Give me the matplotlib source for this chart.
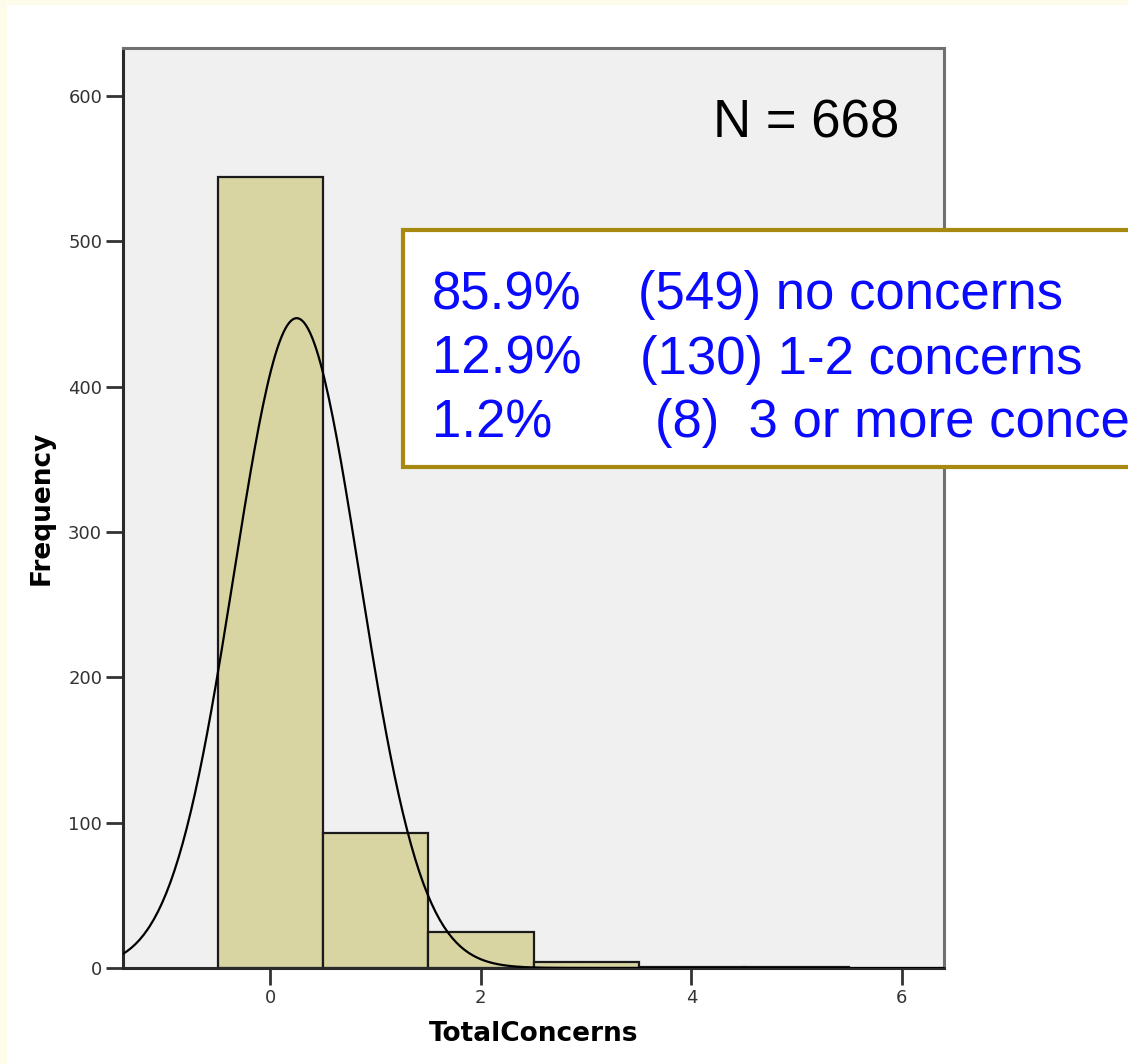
import numpy as np
import matplotlib
matplotlib.use("Agg")
from matplotlib import pyplot as plt
from matplotlib.patches import Rectangle

# histogram of total concerns per respondent
bin_centers = [0, 1, 2, 3, 4, 5]
counts = [544, 93, 25, 4, 1, 1]
n_total = 668

# fitted normal curve parameters
curve_mean = 0.25
curve_sd = 0.596

pct_labels = ["85.9%", "12.9%", "1.2%"]
group_labels = ["(549) no concerns", "(130) 1-2 concerns", "(8)  3 or more concerns"]

W, H = 1128, 1064


def fx(px):
    return px / W


def fy(py):
    return 1 - py / H


fig = plt.figure(figsize=(W / 100, H / 100), dpi=100)
fig.patch.set_facecolor("#fdfbe9")
fig.patches.append(Rectangle((fx(7), 0), 1, fy(5), transform=fig.transFigure,
                             facecolor="white", edgecolor="none", zorder=-5))

ax = fig.add_axes([fx(123), fy(968), fx(944) - fx(123), fy(48) - fy(968)])
ax.set_facecolor("#f0f0f0")

ax.bar(bin_centers, counts, width=1.0, color="#d8d5a3", edgecolor="#1a1a1a",
       linewidth=1.6, zorder=2)

xs = np.linspace(-1.4, 6.4, 400)
bell = n_total / (curve_sd * np.sqrt(2 * np.pi)) * np.exp(-0.5 * ((xs - curve_mean) / curve_sd) ** 2)
ax.plot(xs, bell, color="black", linewidth=1.6, zorder=3)

ax.set_xlim(-1.4, 6.4)
ax.set_ylim(0, 633)
ax.set_xticks([0, 2, 4, 6])
ax.set_yticks([0, 100, 200, 300, 400, 500, 600])
ax.tick_params(axis="both", length=12, width=2, color="#333333",
               labelsize=13, labelcolor="#333333", pad=3)

for side in ["left", "bottom"]:
    ax.spines[side].set_color("#2a2a2a")
    ax.spines[side].set_linewidth(2.2)
for side in ["top", "right"]:
    ax.spines[side].set_color("#707070")
    ax.spines[side].set_linewidth(2.2)

ax.set_xlabel("TotalConcerns", fontsize=19, fontweight="bold", labelpad=10)
ax.set_ylabel("Frequency", fontsize=19, fontweight="bold", labelpad=10)

fig.text(fx(713), fy(137), "N = " + str(n_total), fontsize=38,
         family="Liberation Sans", color="black", va="baseline")

# summary box, runs off the right edge of the figure
fig.patches.append(Rectangle((fx(403), fy(467)), 1, fy(230) - fy(467),
                             transform=fig.transFigure, facecolor="white",
                             edgecolor="#a8890f", linewidth=3, zorder=5))

baselines = [309, 374, 437]
group_x = [638, 640, 655]
for pct, grp, base, gx in zip(pct_labels, group_labels, baselines, group_x):
    fig.text(fx(432), fy(base), pct, fontsize=38, family="Liberation Sans",
             color="#0a0aff", va="baseline", zorder=6)
    fig.text(fx(gx), fy(base), grp, fontsize=38, family="Liberation Sans",
             color="#0a0aff", va="baseline", zorder=6)

fig.savefig("out.png", dpi=100, facecolor=fig.get_facecolor())
